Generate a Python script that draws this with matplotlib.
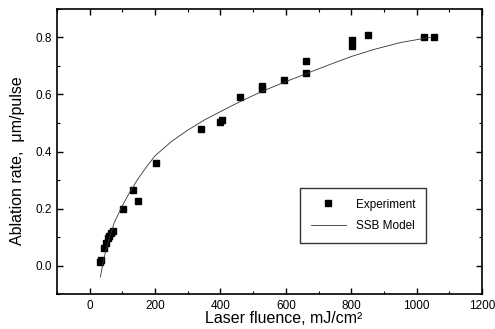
import numpy as np
import matplotlib.pyplot as plt
from matplotlib.ticker import MultipleLocator

plt.rcParams['font.family'] = ['Liberation Sans', 'DejaVu Sans']

# experimental points
exp_x = [33, 36, 45, 50, 55, 58, 65, 72, 102, 134, 149, 204,
         339, 398, 405, 459, 526, 528, 593, 660, 660, 802, 802, 851, 1021, 1054]
exp_y = [0.012, 0.021, 0.062, 0.079, 0.097, 0.105, 0.115, 0.12, 0.197, 0.266, 0.226, 0.36,
         0.48, 0.503, 0.512, 0.59, 0.62, 0.63, 0.65, 0.674, 0.718, 0.769, 0.79, 0.81, 0.80, 0.80]

# SSB model curve
model_x = [33, 40, 50, 60, 75, 100, 125, 150, 175, 200, 250, 300, 350, 400, 460,
           530, 600, 660, 730, 800, 870, 950, 1040]
model_y = [-0.04, 0.005, 0.055, 0.095, 0.15, 0.21, 0.262, 0.308, 0.348, 0.385, 0.435, 0.475,
           0.51, 0.54, 0.575, 0.612, 0.645, 0.672, 0.703, 0.733, 0.758, 0.782, 0.80]

fig = plt.figure(figsize=(4.95, 3.29), dpi=100)
ax = fig.add_axes([0.115, 0.106, 0.859, 0.867])

ax.plot(exp_x, exp_y, 's', color='black', markersize=4.5, label='Experiment')
ax.plot(model_x, model_y, '-', color='#333333', lw=0.6, label='SSB Model')

ax.set_xlim(-100, 1200)
ax.set_ylim(-0.1, 0.9)
ax.xaxis.set_major_locator(MultipleLocator(200))
ax.xaxis.set_minor_locator(MultipleLocator(100))
ax.yaxis.set_major_locator(MultipleLocator(0.2))
ax.yaxis.set_minor_locator(MultipleLocator(0.1))
ax.tick_params(which='both', direction='in', top=True, right=True, labelsize=8.5)
ax.tick_params(axis='x', pad=4)
ax.tick_params(which='major', length=4, width=1)
ax.tick_params(which='minor', length=2.5, width=0.8)
for s in ax.spines.values():
    s.set_linewidth(1.2)

ax.set_xlabel('Laser fluence, mJ/cm\u00b2', fontsize=11.5)
ax.set_ylabel('Ablation rate,  \u03bcm/pulse', fontsize=11.5)
ax.xaxis.set_label_coords(0.534, -0.06)
ax.yaxis.set_label_coords(-0.075, 0.467)

leg = ax.legend(loc='lower left', bbox_to_anchor=(0.558, 0.16), fontsize=8.5,
                frameon=True, fancybox=False, edgecolor='black', borderpad=0.9,
                handlelength=3, labelspacing=0.8)
leg.get_frame().set_linewidth(1.0)

fig.savefig('out.png', dpi=100)
